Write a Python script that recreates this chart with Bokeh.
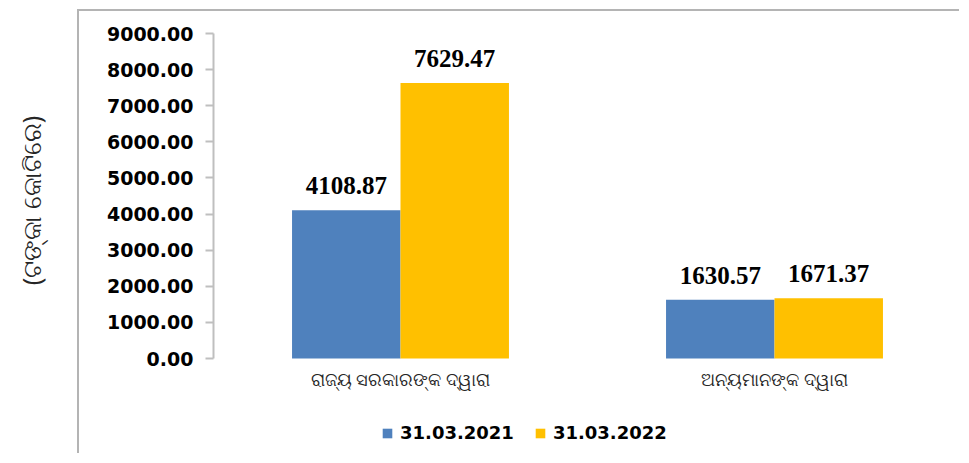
from math import pi
from bokeh.plotting import figure
from bokeh.models import (ColumnDataSource, FactorRange, Range1d, FixedTicker,
                          NumeralTickFormatter, LabelSet, Label, Legend, LegendItem)
from bokeh.transform import dodge
from bokeh.layouts import row
from bokeh.core.properties import value
from bokeh.embed import file_html
from bokeh.resources import INLINE

# ---- data ----
categories = ["ରାଜ୍ୟ ସରକାରଙ୍କ ଦ୍ୱାରା", "ଅନ୍ୟମାନଙ୍କ ଦ୍ୱାରା"]
series_names = ["31.03.2021", "31.03.2022"]
values_2021 = [4108.87, 1630.57]
values_2022 = [7629.47, 1671.37]
y_ticks = [0, 1000, 2000, 3000, 4000, 5000, 6000, 7000, 8000, 9000]
y_axis_title = "(ଟଙ୍କା କୋଟିରେ)"

BLUE = "#4F81BD"
GOLD = "#FFC000"
GRAY = "#b4b4b4"

src = ColumnDataSource(dict(
    cat=categories,
    v2021=values_2021,
    v2022=values_2022,
    l2021=[f"{v:.2f}" for v in values_2021],
    l2022=[f"{v:.2f}" for v in values_2022],
    zero=[0] * len(categories),
))

# ---- left strip: rotated axis title (its frame is aligned with the main frame) ----
lab = figure(width=77, height=455, toolbar_location=None, output_backend="svg",
             x_range=Range1d(0, 1), y_range=Range1d(0, 1),
             x_axis_type=None, y_axis_type=None, min_border=0,
             outline_line_color=None)
lab.grid.visible = False
lab.add_layout(Label(x=30, y=253, x_units="screen", y_units="screen",
                     text=y_axis_title, angle=pi / 2,
                     text_align="center", text_baseline="middle",
                     text_font="Noto Sans", text_font_size="25px",
                     text_color="#262626"))

# ---- main chart (frame extends below zero to hold labels and legend) ----
p = figure(width=882, height=444, toolbar_location=None, output_backend="svg",
           x_range=FactorRange(factors=categories, range_padding=0),
           y_range=Range1d(-2630, 9000), x_axis_location=None,
           min_border_left=134, min_border_right=0,
           min_border_top=22, min_border_bottom=2,
           outline_line_color=None)
p.margin = (9, 0, 0, 0)
p.styles = {"border-top": f"2px solid {GRAY}", "border-left": f"2px solid {GRAY}"}

bw = 0.29
r1 = p.vbar(x=dodge("cat", -bw / 2, range=p.x_range), top="v2021", width=bw,
            source=src, fill_color=BLUE, line_color=None)
r2 = p.vbar(x=dodge("cat", bw / 2, range=p.x_range), top="v2022", width=bw,
            source=src, fill_color=GOLD, line_color=None)

for key, lab_key, off in (("v2021", "l2021", -bw / 2), ("v2022", "l2022", bw / 2)):
    p.add_layout(LabelSet(x=dodge("cat", off, range=p.x_range), y=key, text=lab_key,
                          source=src, y_offset=16, text_align="center",
                          text_baseline="alphabetic",
                          text_font=value("Liberation Serif"), text_font_style="bold",
                          text_font_size="25px", text_color="black"))

# category labels under the bars
p.add_layout(LabelSet(x="cat", y="zero", text="cat", source=src, y_offset=-20,
                      text_align="center", text_baseline="middle",
                      text_font=value("Noto Sans"), text_font_size="18px",
                      text_color="#262626"))

p.grid.visible = False

yax = p.yaxis[0]
yax.ticker = FixedTicker(ticks=y_ticks)
yax.bounds = (0, 9000)
yax.formatter = NumeralTickFormatter(format="0.00")
yax.axis_line_color = "#bfbfbf"
yax.axis_line_width = 2
yax.major_tick_line_color = "#bfbfbf"
yax.major_tick_line_width = 2
yax.major_tick_out = 8
yax.major_tick_in = 0
yax.minor_tick_line_color = None
yax.major_label_standoff = 12
yax.major_label_text_font = "DejaVu Sans"
yax.major_label_text_font_style = "bold"
yax.major_label_text_font_size = "19px"
yax.major_label_text_color = "black"

legend = Legend(items=[LegendItem(label=series_names[0], renderers=[r1]),
                       LegendItem(label=series_names[1], renderers=[r2])],
                location=(168, 10), orientation="horizontal",
                padding=0, margin=0, spacing=20, label_standoff=7,
                glyph_width=12, glyph_height=12, label_height=20,
                border_line_color=None, background_fill_alpha=0,
                label_text_font="DejaVu Sans", label_text_font_style="bold",
                label_text_font_size="18px", label_text_color="black")
p.add_layout(legend, "center")

layout = row(lab, p, spacing=0)
open("out.html", "w").write(file_html(layout, INLINE))
